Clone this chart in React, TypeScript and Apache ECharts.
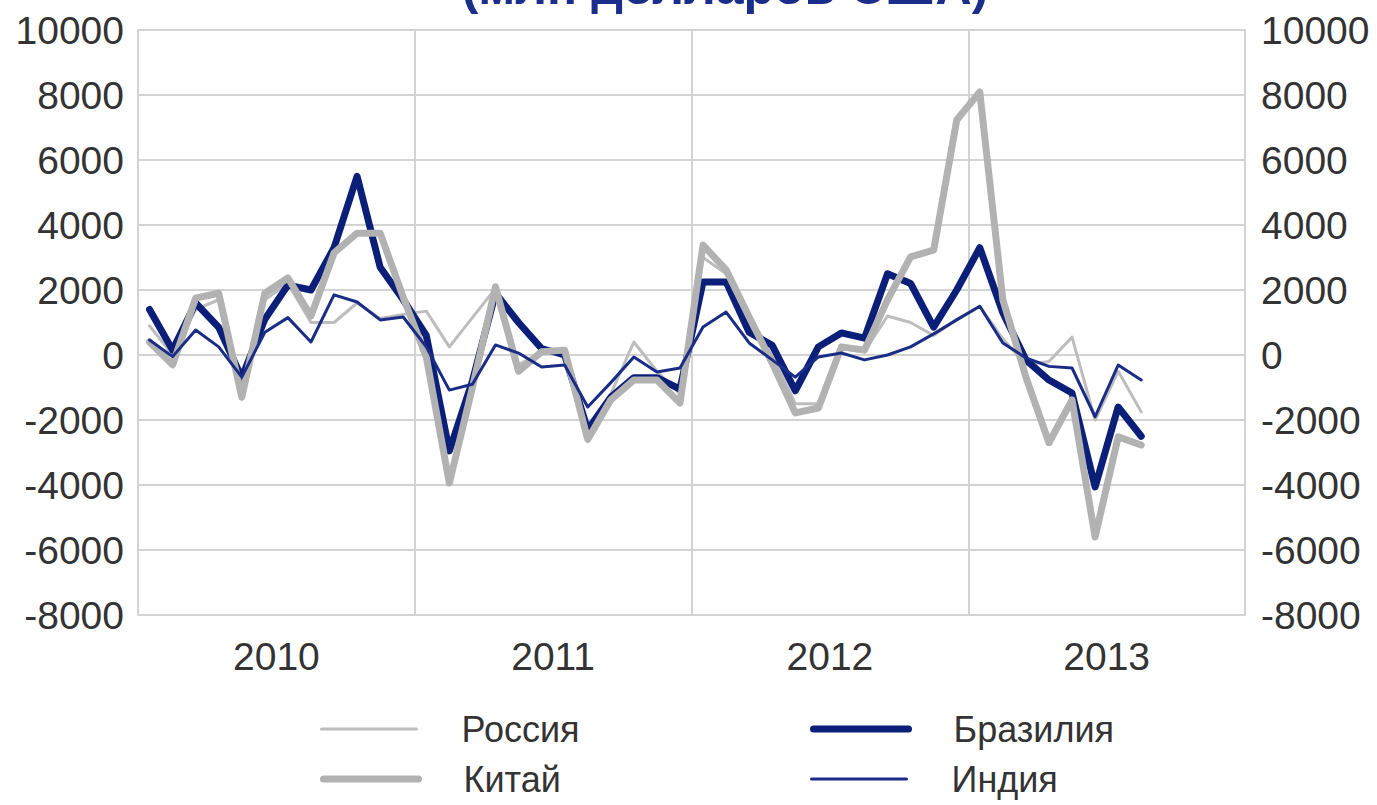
import React, { useEffect, useRef } from "react";
import * as echarts from "echarts";

const years = ["2010", "2011", "2012", "2013"];
const months = years.flatMap((y) => ["01", "02", "03", "04", "05", "06", "07", "08", "09", "10", "11", "12"].map((m) => `${m}.${y}`));

const yTicks = { min: -8000, max: 10000, interval: 2000 };

const russia = [900, 0, 1400, 1700, -900, 1700, 2200, 1000, 1000, 1600, 1120, 1250, 1350, 250, 1150, 2050, -300, 100, 100, -2400, -1200, 400, -500, -1200, 3000, 2500, 1200, 0, -1500, -1500, 200, 100, 1200, 1000, 600, 1100, 1500, 500, -300, -200, 550, -2000, -500, -1750];
const brazil = [1400, 150, 1600, 850, -700, 1100, 2150, 2000, 3300, 5500, 2700, 1700, 600, -2950, -800, 1900, 1000, 200, 0, -2300, -1300, -700, -700, -1050, 2250, 2250, 700, 300, -1100, 250, 680, 520, 2500, 2200, 860, 2000, 3300, 1300, -150, -770, -1170, -4060, -1600, -2500];
const china = [400, -300, 1750, 1900, -1300, 1900, 2370, 1200, 3140, 3750, 3750, 1780, -60, -3940, -1000, 2100, -500, 100, 150, -2600, -1380, -770, -770, -1480, 3380, 2620, 1170, -250, -1780, -1630, 250, 150, 1700, 3020, 3230, 7230, 8090, 1700, -680, -2700, -1380, -5600, -2520, -2770];
const india = [460, -50, 770, 250, -680, 700, 1150, 400, 1850, 1630, 1080, 1170, 250, -1080, -900, 310, 60, -370, -310, -1600, -850, -60, -520, -400, 860, 1320, 370, -150, -680, -60, 60, -150, 0, 250, 650, 1080, 1500, 370, -90, -350, -400, -1900, -310, -770];

const title = "(млн долларов США)";
const FONT = "'Liberation Sans', Arial, sans-serif";
const TXT = "#333333";
const GRIDC = "#d3d3d3";

const C_RUSSIA = "#bdbdbd";
const C_BRAZIL = "#0b1f78";
const C_CHINA = "#b2b2b2";
const C_INDIA = "#1a2d86";

export default function App() {
  const ref = useRef<HTMLDivElement>(null);
  useEffect(() => {
    if (!ref.current) return;
    const chart = echarts.init(ref.current, undefined, { renderer: "svg" });
    const legendText = { fontFamily: FONT, fontSize: 36, color: TXT, padding: [0, 0, 0, 40] };
    const mkLegend = (name: string, color: string, width: number, left: number, top: number) => ({
      data: [{ name, itemStyle: { opacity: 0 }, lineStyle: { color, width, opacity: 1 } }],
      left,
      top,
      itemWidth: 95,
      itemHeight: 14,
      textStyle: legendText,
      selectedMode: false,
    });
    const lineSeries = (name: string, data: number[], color: string, width: number, z: number) => ({
      name,
      type: "line",
      data,
      xAxisIndex: 0,
      yAxisIndex: 0,
      symbol: "none",
      showSymbol: false,
      z,
      lineStyle: { color, width, join: "round", cap: "round" },
      itemStyle: { color },
    });
    const yLabel = (margin: number) => ({
      fontFamily: FONT,
      fontSize: 39,
      color: TXT,
      margin,
      formatter: (v: number) => String(v),
    });
    chart.setOption({
      animation: false,
      backgroundColor: "#ffffff",
      graphic: [
        {
          type: "text",
          x: 725,
          y: -13,
          style: {
            text: title,
            align: "center",
            verticalAlign: "middle",
            fontFamily: FONT,
            fontSize: 50,
            fontWeight: "bold",
            fill: "#1c2e8c",
          },
        },
      ],
      grid: { left: 138, right: 132, top: 30, bottom: 190, containLabel: false },
      legend: [
        mkLegend("Россия", C_RUSSIA, 3, 315, 706),
        mkLegend("Бразилия", C_BRAZIL, 7, 805, 706),
        mkLegend("Китай", C_CHINA, 7, 315, 756),
        mkLegend("Индия", C_INDIA, 3, 805, 756),
      ],
      xAxis: [
        {
          type: "category",
          data: months,
          boundaryGap: true,
          show: false,
        },
        {
          type: "category",
          data: years,
          boundaryGap: true,
          position: "bottom",
          axisLine: { show: true, lineStyle: { color: GRIDC, width: 2 } },
          axisTick: { show: false },
          splitLine: { show: true, lineStyle: { color: GRIDC, width: 2 } },
          axisLabel: { fontFamily: FONT, fontSize: 39, color: TXT, margin: 22 },
        },
      ],
      yAxis: [
        {
          type: "value",
          ...yTicks,
          position: "left",
          axisLine: { show: true, lineStyle: { color: GRIDC, width: 2 } },
          axisTick: { show: false },
          splitLine: { show: true, lineStyle: { color: GRIDC, width: 2 } },
          axisLabel: yLabel(14),
        },
        {
          type: "value",
          ...yTicks,
          position: "right",
          axisLine: { show: true, lineStyle: { color: GRIDC, width: 2 } },
          axisTick: { show: false },
          splitLine: { show: false },
          axisLabel: yLabel(16),
        },
      ],
      series: [
        lineSeries("Россия", russia, C_RUSSIA, 3, 2),
        lineSeries("Бразилия", brazil, C_BRAZIL, 7, 3),
        lineSeries("Китай", china, C_CHINA, 7, 4),
        lineSeries("Индия", india, C_INDIA, 3, 5),
      ],
    });
    return () => chart.dispose();
  }, []);
  return <div ref={ref} style={{ position: "fixed", left: 0, top: 0, width: 1377, height: 805 }} />;
}
